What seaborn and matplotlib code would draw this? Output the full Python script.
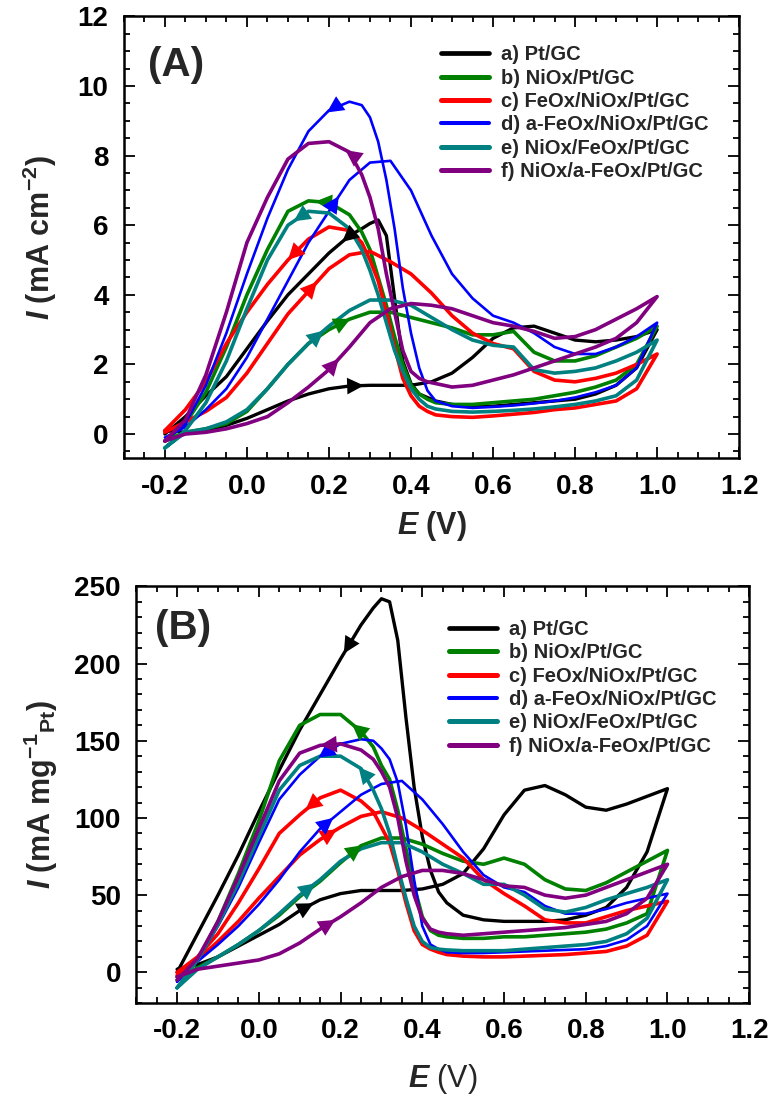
"""
Cyclic voltammograms of methanol oxidation on modified Pt/GC electrodes,
panel A in current density and panel B in Pt mass activity.
"""

import matplotlib
matplotlib.use('Agg')
import matplotlib.pyplot as plt
import seaborn as sns
import numpy as np
import pandas as pd
from matplotlib.ticker import MultipleLocator, FormatStrFormatter

# ---------------------------------------------------------------- data
SAMPLES = ['a) Pt/GC', 'b) NiOx/Pt/GC', 'c) FeOx/NiOx/Pt/GC',
           'd) a-FeOx/NiOx/Pt/GC', 'e) NiOx/FeOx/Pt/GC', 'f) NiOx/a-FeOx/Pt/GC']
COLORS = ['#000000', '#008000', '#ff0000', '#0000ff', '#008080', '#800080']

# potential of the forward (anodic) sweep and of the backward sweep, V
E_FWD = [-0.2, -0.15, -0.1, -0.05, 0.0, 0.05, 0.1, 0.15, 0.2, 0.25, 0.3, 0.35,
         0.4, 0.45, 0.5, 0.55, 0.6, 0.65, 0.7, 0.75, 0.8, 0.85, 0.9, 0.95, 1.0]
E_REV = [1.0, 0.95, 0.9, 0.85, 0.8, 0.75, 0.7, 0.65, 0.6, 0.55, 0.5, 0.46,
         0.44, 0.42, 0.40, 0.38, 0.36, 0.34, 0.32, 0.30, 0.28, 0.25, 0.2, 0.15,
         0.1, 0.05, 0.0, -0.05, -0.1, -0.15, -0.2]

# panel A, mA cm-2
A_FWD = [
    [0.1, 0.05, 0.1, 0.25, 0.45, 0.7, 0.95, 1.15, 1.3, 1.38, 1.4, 1.4, 1.4,
     1.5, 1.75, 2.2, 2.75, 3.05, 3.1, 2.9, 2.7, 2.65, 2.7, 2.8, 3.0],
    [-0.2, 0.05, 0.15, 0.3, 0.65, 1.3, 2.0, 2.6, 3.0, 3.3, 3.5, 3.5, 3.35,
     3.2, 3.05, 2.85, 2.85, 2.95, 2.35, 2.1, 2.1, 2.25, 2.5, 2.75, 3.1],
    [0.05, 0.35, 0.65, 1.05, 1.75, 2.6, 3.45, 4.1, 4.75, 5.15, 5.25, 4.95,
     4.6, 4.05, 3.4, 2.9, 2.6, 2.45, 1.8, 1.55, 1.5, 1.6, 1.75, 2.0, 2.3],
    [-0.1, 0.2, 0.7, 1.3, 2.2, 3.3, 4.4, 5.5, 6.4, 7.3, 7.8, 7.85, 7.0, 5.7,
     4.6, 3.9, 3.4, 3.2, 2.9, 2.5, 2.3, 2.3, 2.5, 2.8, 3.2],
    [-0.4, 0.05, 0.15, 0.35, 0.7, 1.3, 2.0, 2.6, 3.1, 3.55, 3.85, 3.85, 3.7,
     3.35, 3.0, 2.7, 2.55, 2.5, 1.85, 1.75, 1.8, 1.9, 2.1, 2.35, 2.7],
    [-0.2, 0.0, 0.05, 0.15, 0.3, 0.5, 0.9, 1.35, 1.85, 2.5, 3.2, 3.6, 3.75,
     3.7, 3.6, 3.4, 3.2, 3.1, 2.95, 2.75, 2.8, 3.0, 3.3, 3.6, 3.95],
]
A_REV = [
    [3.0, 1.9, 1.4, 1.15, 1.0, 0.95, 0.9, 0.85, 0.8, 0.8, 0.85, 0.95, 1.05,
     1.15, 1.45, 2.1, 3.9, 5.7, 6.15, 6.05, 5.9, 5.7, 5.2, 4.6, 4.0, 3.25,
     2.45, 1.65, 1.1, 0.5, 0.0],
    [3.1, 2.0, 1.55, 1.35, 1.2, 1.1, 1.0, 0.95, 0.9, 0.85, 0.85, 0.9, 1.0,
     1.15, 1.4, 2.0, 2.8, 3.7, 4.5, 5.3, 5.8, 6.3, 6.65, 6.7, 6.4, 5.3, 4.0,
     2.5, 1.2, 0.3, -0.2],
    [2.3, 1.3, 0.95, 0.85, 0.75, 0.7, 0.62, 0.57, 0.52, 0.48, 0.5, 0.55, 0.65,
     0.8, 1.1, 1.6, 2.5, 3.5, 4.4, 5.0, 5.5, 5.85, 5.95, 5.6, 5.0, 4.3, 3.5,
     2.6, 1.5, 0.7, 0.1],
    [3.2, 1.9, 1.4, 1.2, 1.05, 0.95, 0.88, 0.82, 0.78, 0.75, 0.8, 0.95, 1.25,
     1.9, 2.9, 4.2, 5.9, 7.3, 8.4, 9.1, 9.45, 9.55, 9.3, 8.7, 7.6, 6.2, 4.6,
     2.9, 1.4, 0.3, -0.2],
    [2.7, 1.55, 1.1, 0.95, 0.85, 0.78, 0.72, 0.68, 0.65, 0.63, 0.65, 0.72,
     0.8, 1.0, 1.3, 1.8, 2.4, 3.2, 4.0, 4.7, 5.3, 5.9, 6.35, 6.4, 6.0, 5.0,
     3.6, 2.1, 0.9, 0.1, -0.4],
    [3.95, 3.2, 2.75, 2.5, 2.3, 2.1, 1.9, 1.7, 1.55, 1.4, 1.35, 1.45, 1.5,
     1.6, 1.8, 2.4, 3.5, 4.6, 5.9, 6.8, 7.45, 8.1, 8.4, 8.35, 7.9, 6.8, 5.5,
     3.5, 1.7, 0.4, -0.2],
]

# panel B, mA mg-1 Pt
B_FWD = [
    [2, 5, 10, 17, 24, 31, 40, 47, 51, 53, 53, 53, 54, 57, 64, 80, 102, 118,
     121, 115, 107, 105, 109, 114, 119],
    [-5, 3, 10, 18, 27, 37, 49, 59, 71, 82, 87, 87, 83, 77, 72, 70, 74, 70,
     60, 54, 53, 58, 65, 72, 79],
    [-2, 8, 20, 33, 48, 62, 76, 86, 94, 101, 104, 100, 92, 83, 74, 60, 51, 43,
     34, 32, 32, 36, 40, 43, 46],
    [-6, 7, 18, 30, 44, 60, 78, 93, 104, 115, 122, 124, 112, 96, 78, 63, 55,
     52, 43, 38, 38, 41, 45, 48, 51],
    [-10, 2, 10, 18, 27, 38, 50, 60, 72, 80, 84, 84, 78, 70, 64, 57, 57, 50,
     41, 39, 42, 47, 51, 55, 60],
    [-3, 2, 4, 6, 8, 12, 19, 28, 36, 45, 55, 62, 66, 66, 64, 60, 56, 55, 50,
     48, 50, 55, 60, 65, 70],
]
B_REV = [
    [119, 78, 55, 42, 37, 34, 33, 33, 33, 34, 37, 45, 52, 66, 88, 120, 165,
     215, 240, 242, 236, 225, 203, 180, 157, 131, 104, 76, 50, 25, 0],
    [79, 38, 32, 28, 26, 25, 24, 23, 23, 22, 22, 23, 24, 27, 36, 56, 80, 105,
     125, 134, 146, 156, 167, 167, 160, 137, 98, 64, 33, 8, -3],
    [45, 24, 17, 13.5, 12.5, 11.5, 11, 10.5, 10, 10, 10.5, 11.5, 13, 15, 18,
     27, 45, 66, 84, 94, 104, 111, 118, 113, 102, 90, 67, 45, 25, 10, 0],
    [51, 30, 21, 17, 15, 14.5, 14, 13.5, 13, 12.5, 12.5, 13, 15, 18, 30, 60,
     95, 123, 138, 145, 150, 151, 148, 140, 128, 112, 84, 55, 30, 8, -6],
    [60, 35, 25, 20, 18, 17, 16, 15, 14, 14, 14, 14.5, 15, 16, 20, 30, 48, 68,
     90, 106, 118, 132, 140, 140, 134, 118, 88, 58, 31, 8, -10],
    [70, 48, 38, 33, 31, 29, 28, 27, 26, 25, 24, 25, 26, 28, 35, 50, 72, 100,
     120, 130, 138, 144, 148, 147, 142, 124, 93, 62, 33, 9, -5],
]

# potentials where the sweep-direction arrow heads sit
ARROW_A_FWD = [0.285, 0.252, 0.171, 0.224, 0.187, 0.224]
ARROW_A_REV = [0.232, 0.167, 0.10, 0.195, 0.114, 0.24]
ARROW_B_FWD = [0.134, 0.253, 0.191, 0.182, 0.138, 0.187]
ARROW_B_REV = [0.208, 0.228, 0.114, 0.146, 0.244, 0.15]

LINE_WIDTHS = [2.4, 2.6, 2.6, 1.9, 2.6, 2.6]

# ---------------------------------------------------------------- style
sns.set_theme(style='ticks')
plt.rcParams['font.family'] = ['Liberation Sans', 'DejaVu Sans']
plt.rcParams['axes.unicode_minus'] = False
plt.rcParams['mathtext.fontset'] = 'custom'
plt.rcParams['mathtext.rm'] = 'Liberation Sans:bold'
plt.rcParams['mathtext.bf'] = 'Liberation Sans:bold'
plt.rcParams['mathtext.it'] = 'Liberation Sans:italic:bold'

TICK_FONT = dict(family=['Liberation Sans Narrow', 'Liberation Sans'],
                 weight='bold', size=20)


def build_frame(fwd, rev):
    rows = []
    for name, f, r in zip(SAMPLES, fwd, rev):
        loop_e = E_FWD + E_REV[1:]
        loop_i = f + r[1:]
        for k, (e, i) in enumerate(zip(loop_e, loop_i)):
            rows.append({'sample': name, 'step': k, 'E': e, 'I': i})
    return pd.DataFrame(rows)


def add_arrows(ax, fwd, rev, pos_fwd, pos_rev):
    for c, f, r, pf, pr in zip(COLORS, fwd, rev, pos_fwd, pos_rev):
        # forward sweep goes to the right, backward sweep to the left
        for xs, ys, p, step in ((E_FWD, f, pf, 0.012),
                                (E_REV[::-1], r[::-1], pr, -0.012)):
            y1 = np.interp(p, xs, ys)
            y0 = np.interp(p - step, xs, ys)
            ax.annotate('', xy=(p, y1), xytext=(p - step, y0),
                        arrowprops=dict(arrowstyle='-|>', color=c, lw=0,
                                        mutation_scale=30,
                                        shrinkA=0, shrinkB=0))


def style_axes(ax, ylim, ymajor, yminor, ylabel, label_x, label_y, tag,
               tag_xy, xlabel_weight):
    ax.set_xlim(-0.3, 1.2)
    ax.set_ylim(*ylim)
    ax.xaxis.set_major_locator(MultipleLocator(0.2))
    ax.xaxis.set_minor_locator(MultipleLocator(0.05))
    ax.yaxis.set_major_locator(MultipleLocator(ymajor))
    ax.yaxis.set_minor_locator(MultipleLocator(yminor))
    ax.xaxis.set_major_formatter(FormatStrFormatter('%.1f'))
    ax.yaxis.set_major_formatter(FormatStrFormatter('%d'))
    ax.tick_params(which='both', direction='in', top=True, right=True,
                   width=1.3, colors='black')
    ax.tick_params(which='major', length=8, pad=11)
    ax.tick_params(which='minor', length=4)
    for lab in ax.get_xticklabels() + ax.get_yticklabels():
        lab.set_fontproperties(TICK_FONT)
    for sp in ax.spines.values():
        sp.set_visible(True)
        sp.set_linewidth(1.8)
        sp.set_color('black')
    ax.set_xlabel(r'$E$ (V)', fontsize=22, fontweight=xlabel_weight)
    ax.set_ylabel(ylabel, fontsize=22, fontweight='bold')
    ax.xaxis.set_label_coords(0.5, label_y)
    ax.yaxis.set_label_coords(label_x, 0.5)
    ax.text(tag_xy[0], tag_xy[1], tag, transform=ax.transAxes,
            fontsize=29, fontweight='bold', va='center', ha='left')


def draw_panel(ax, fwd, rev, pos_fwd, pos_rev, legend_anchor):
    df = build_frame(fwd, rev)
    sns.lineplot(data=df, x='E', y='I', hue='sample', units='sample',
                 estimator=None, sort=False, palette=COLORS,
                 hue_order=SAMPLES, ax=ax, legend=False)
    for line, lw in zip(ax.lines, LINE_WIDTHS):
        line.set_linewidth(lw)
        line.set_solid_joinstyle('round')
    add_arrows(ax, fwd, rev, pos_fwd, pos_rev)
    handles = [plt.Line2D([], [], color=c, lw=lw + 1.0)
               for c, lw in zip(COLORS, LINE_WIDTHS)]
    ax.legend(handles, SAMPLES, loc='upper left', bbox_to_anchor=legend_anchor,
              frameon=False, prop=dict(weight='bold', size=14.5),
              handlelength=2.4, handletextpad=0.6, labelspacing=0.22,
              borderaxespad=0, borderpad=0)


fig = plt.figure(figsize=(7.74, 10.94), dpi=100)
ax_a = fig.add_axes([0.160, 0.581, 0.795, 0.404])
ax_b = fig.add_axes([0.176, 0.083, 0.792, 0.381])

draw_panel(ax_a, A_FWD, A_REV, ARROW_A_FWD, ARROW_A_REV, (0.515, 0.935))
style_axes(ax_a, (-0.7, 12), 2, 0.5, r'$I$ (mA cm$^{-2}$)', -0.105, -0.115,
           '(A)', (0.04, 0.89), 'bold')

draw_panel(ax_b, B_FWD, B_REV, ARROW_B_FWD, ARROW_B_REV, (0.51, 0.92))
style_axes(ax_b, (-20, 250), 50, 10, r'$I$ (mA mg$^{-1}{}_{\rm Pt}$)', -0.125,
           -0.14, '(B)', (0.03, 0.9), 'normal')

fig.savefig('out.png', dpi=100)
plt.close(fig)
